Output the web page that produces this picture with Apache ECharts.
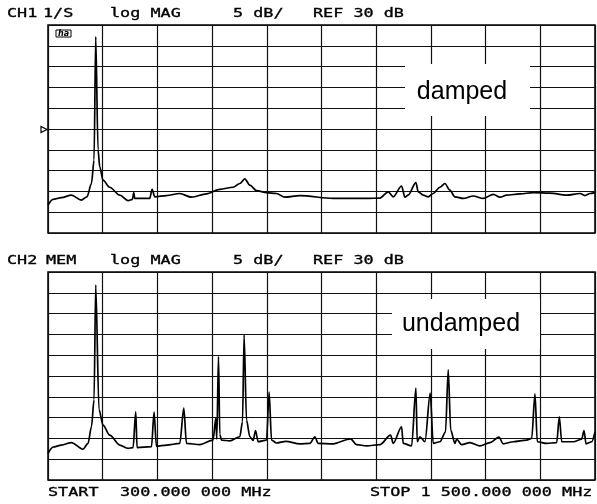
<!DOCTYPE html>
<html><head><meta charset="utf-8">
<script src="https://cdn.jsdelivr.net/npm/echarts@6/dist/echarts.min.js"></script>
<style>html,body{margin:0;padding:0;background:#fff}#c{width:597px;height:504px}</style>
</head><body><div id="c"></div>
<script>
// Frequency axis (MHz) and magnitude axis (dB)
const X_MIN = 300, X_MAX = 1500;
const Y_MIN = 5, Y_MAX = 55, Y_STEP = 5;

// CH1 – damped trace
const freqTop = [300,311,329.4,351.4,373.3,385.6,395.3,401,404.7,409.8,413.5,420.7,435.4,457.4,475.6,485.3,488.1,490.3,523.2,528.3,534.2,559.9,589.1,614.8,647.7,676.9,706.1,720.8,731.8,742.8,757.4,779.4,801.3,819.6,852.5,925.6,998.9,1028.1,1046.3,1057.3,1075.7,1083,1090.2,1107.1,1112.2,1123.1,1134.1,1145.1,1159.8,1170.7,1181.7,1192.7,1210.9,1232.9,1254.8,1276.8,1291.5,1306.2,1335.4,1364.6,1401.2,1437.9,1467.1,1478.1,1489,1500];
const dbTop = [11.7,13.1,13.5,14.1,12.9,13.7,16.9,22.5,52.2,25,20.9,17.7,16,14.1,12.8,13.1,14.7,13.3,13.3,15.5,13.7,14,14.5,13.6,14.4,15.5,16,16.9,18,16.5,15.2,14.7,14.5,13.6,14,13.3,13.3,13.4,14.9,13.7,16.3,13.6,14.1,17.1,14.9,14.1,13.7,14.5,16,16.9,15.3,13.7,13.3,13.9,13.3,14.3,13.6,14.1,14.4,14.7,14.6,14.1,14.5,14,14.5,14.7];

// CH2 – undamped trace (memory)
const freqBot = [300,311,329.4,351.4,376.8,387.8,395.3,401,404.7,411.9,420.7,435.4,457.4,475.6,486.6,492.5,495.4,527,532.7,537.9,559.9,589.1,597.9,603.8,633,662.2,668.1,670.3,674,676.9,680.6,698.8,720.8,726.7,730.2,735.5,742.8,750,755.3,761,779.4,785.1,790.4,801.3,821.7,852.5,874.4,885.4,892.6,925.6,963.8,977,998.9,1028.1,1051.6,1057.3,1075.7,1079.2,1097.7,1107.1,1110,1115.9,1126.9,1138.5,1145.1,1159.8,1172,1178,1183.5,1192.7,1196.5,1207.4,1225.6,1247.6,1269.5,1289.3,1298.7,1320.7,1350.1,1361.1,1368.3,1373.4,1394,1416,1421.7,1427,1452.4,1470.8,1475.9,1480.3,1492.8,1500];
const dbBot = [11.4,12.9,13.4,14,12.4,13.8,17.8,24.3,51.9,21.9,18.2,15.8,13.4,12.6,12.8,21.4,12.8,13,21.3,13.1,13.4,13.8,22.3,13.8,13.5,14.6,19.9,14.8,34.7,16,14.6,14.4,15.4,19,39.9,19.4,15.4,14.5,16.9,14.2,14.6,26.1,14.6,13.9,14.3,13.7,13.8,15.4,13.8,13.7,14.9,13.5,13.2,13.5,15.8,13.8,17.8,13.8,13.2,27.1,14.2,15.4,14.2,25.9,13.8,14.2,16.5,31.5,17,13.8,14.8,13.5,14,13.2,14,15.3,13.7,14.2,14.6,15,25.7,14.2,13.8,14,20.2,14.2,14.2,14.8,16.9,13.7,14.2,16.6];

// Annotation texts
const headerTop = ['CH1','1/S','log MAG','5 dB/','REF 30 dB'];
const headerBot = ['CH2','MEM','log MAG','5 dB/','REF 30 dB'];
const footer = ['START','300.000 000 MHz','STOP 1 500.000 000 MHz'];
const labelTop = 'damped';
const labelBot = 'undamped';

const chart = echarts.init(document.getElementById('c'), null, {renderer:'canvas'});

const GRIDS = [{left:48, top:25, width:547, height:208}, {left:48, top:272, width:547, height:208}];

function dataAxis(gi){
  return {type:'value', gridIndex:gi, min:X_MIN, max:X_MAX, show:false};
}
function divAxis(gi){
  return {type:'value', gridIndex:gi, min:0, max:10, interval:1,
    axisLine:{show:false}, axisTick:{show:false}, axisLabel:{show:false},
    splitLine:{show:true, lineStyle:{color:'#111', width:1.2}}};
}
function yAx(gi){
  return {type:'value', gridIndex:gi, min:Y_MIN, max:Y_MAX, interval:Y_STEP,
    axisLine:{show:false}, axisTick:{show:false}, axisLabel:{show:false},
    splitLine:{show:true, lineStyle:{color:'#111', width:1.2}}};
}

const FONT = '11.5px "DejaVu Sans Mono"';
const SX = 1.46;
function txt(s, x, y){
  return {type:'text', x:x, y:y, scaleX:SX, z:100,
    style:{text:s, font:FONT, fill:'#000', stroke:'#000', lineWidth:0.3, align:'left', verticalAlign:'middle'}};
}
const hxTop = [7,43,110,233,313];
const hxBot = [7,46,110,233,313];
const fx = [48,120,370];

const graphics = [];
headerTop.forEach((s,i)=>graphics.push(txt(s,hxTop[i],14.5)));
headerBot.forEach((s,i)=>graphics.push(txt(s,hxBot[i],261)));
footer.forEach((s,i)=>graphics.push(txt(s,fx[i],493)));
// white label boxes
graphics.push({type:'rect', z:100, shape:{x:405,y:64,width:125,height:52}, style:{fill:'#fff'}});
graphics.push({type:'text', z:101, x:462, y:92, style:{text:labelTop, font:'25px "Liberation Sans"', fill:'#000', align:'center', verticalAlign:'middle'}});
graphics.push({type:'rect', z:100, shape:{x:392,y:299,width:148,height:50}, style:{fill:'#fff'}});
graphics.push({type:'text', z:101, x:461, y:324, style:{text:labelBot, font:'25px "Liberation Sans"', fill:'#000', align:'center', verticalAlign:'middle'}});
// reference marker
graphics.push({type:'polygon', z:100, shape:{points:[[41,126.5],[41,132.5],[47,129.5]]}, style:{fill:'#fff', stroke:'#000', lineWidth:1.2}});
// small annotation icon
graphics.push({type:'rect', z:100, shape:{x:56,y:30,width:15,height:7}, style:{fill:'#fff', stroke:'#000', lineWidth:1}});
graphics.push({type:'text', z:101, x:63.5, y:33.5, style:{text:'ha', font:'italic bold 8px "DejaVu Sans"', fill:'#000', align:'center', verticalAlign:'middle'}});

const lineSeries = (xi, fr, db) => ({type:'line', xAxisIndex:xi, yAxisIndex:xi, showSymbol:false,
  smooth:0.3, smoothMonotone:'x', lineStyle:{color:'#000', width:1.7},
  data: fr.map((f,i)=>[f, db[i]])});

chart.setOption({
  animation:false,
  backgroundColor:'#fff',
  grid: GRIDS.map(g=>Object.assign({show:true, borderColor:'#000', borderWidth:1.5, backgroundColor:'transparent'}, g)),
  xAxis:[dataAxis(0), dataAxis(1), divAxis(0), divAxis(1)],
  yAxis:[yAx(0), yAx(1)],
  series:[ lineSeries(0, freqTop, dbTop), lineSeries(1, freqBot, dbBot) ],
  graphic: graphics
});
</script></body></html>
